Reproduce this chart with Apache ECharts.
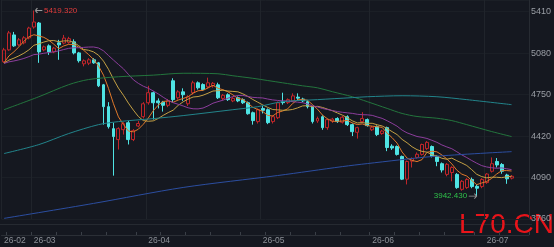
<!DOCTYPE html>
<html>
<head>
<meta charset="utf-8">
<script src="https://cdn.jsdelivr.net/npm/echarts@6/dist/echarts.min.js"></script>
<style>
html, body { margin: 0; padding: 0; background: #151820; }
#main { width: 554px; height: 247px; }
</style>
</head>
<body>
<div id="main"></div>
<script>
// trading days per month (day of month)
var tradeDays = [
    ['2026-02', [20, 23, 24, 25, 26, 27]],
    ['2026-03', [2, 3, 4, 5, 6, 9, 10, 11, 12, 13, 16, 17, 18, 19, 20, 23, 24, 25, 26, 27, 28, 30, 31]],
    ['2026-04', [1, 2, 3, 6, 7, 8, 9, 10, 13, 14, 15, 16, 17, 20, 21, 22, 23, 24, 25, 27, 28, 29, 30]],
    ['2026-05', [1, 4, 5, 6, 7, 8, 11, 12, 13, 14, 15, 18, 19, 20, 21, 22, 25, 26, 27, 28, 29, 30]],
    ['2026-06', [1, 2, 3, 4, 5, 8, 9, 10, 11, 12, 15, 16, 17, 18, 19, 22, 23, 24, 25, 26, 27, 29, 30]],
    ['2026-07', [1, 2, 3, 6, 7, 8]]
];

var opens = [5011, 5106, 5225, 5146, 5162, 5201, 5288, 5320, 5106, 5138, 5090, 5162, 5160, 5165, 5170, 5082, 4995, 5000, 5027, 5003,
    4828, 4654, 4479, 4392, 4471, 4526, 4392, 4500, 4574, 4685, 4765, 4700, 4690, 4665, 4860, 4725, 4772, 4677, 4765, 4844,
    4830, 4812, 4820, 4828, 4720, 4749, 4700, 4725, 4710, 4685, 4606, 4535, 4640, 4630, 4535, 4566, 4694, 4686, 4700, 4730,
    4715, 4694, 4654, 4540, 4574, 4487, 4540, 4560, 4530, 4574, 4511, 4450, 4535, 4551, 4470, 4495, 4440, 4487, 4340, 4337,
    4258, 4077, 4220, 4250, 4274, 4320, 4337, 4258, 4200, 4115, 4130, 4115, 3996, 4010, 4075, 4020, 4018, 4050, 4140, 4218,
    4194, 4110, 4085];
var closes = [5106, 5241, 5138, 5186, 5202, 5280, 5328, 5090, 5130, 5090, 5120, 5146, 5200, 5195, 5082, 5020, 5019, 5027, 5003, 4820,
    4654, 4495, 4416, 4479, 4518, 4392, 4463, 4520, 4677, 4765, 4685, 4685, 4665, 4700, 4710, 4772, 4749, 4733, 4844, 4804,
    4790, 4844, 4840, 4725, 4745, 4710, 4720, 4700, 4685, 4598, 4543, 4630, 4625, 4527, 4574, 4685, 4686, 4710, 4740, 4722,
    4700, 4654, 4535, 4560, 4487, 4551, 4555, 4535, 4570, 4511, 4455, 4487, 4560, 4503, 4490, 4432, 4460, 4329, 4325, 4274,
    4077, 4218, 4240, 4275, 4353, 4370, 4258, 4218, 4150, 4195, 4170, 4010, 4060, 4075, 4018, 4005, 4075, 4118, 4200, 4190,
    4140, 4080, 4100];
var lows = [5003, 5098, 5130, 5138, 5150, 5190, 5275, 5003, 5095, 5066, 5080, 5027, 5150, 5155, 5070, 5005, 4975, 4985, 4995, 4810,
    4511, 4480, 4105, 4313, 4432, 4353, 4380, 4490, 4560, 4670, 4551, 4640, 4615, 4650, 4690, 4710, 4700, 4660, 4750, 4790,
    4780, 4800, 4805, 4715, 4705, 4700, 4690, 4690, 4675, 4590, 4511, 4520, 4600, 4515, 4520, 4555, 4670, 4675, 4690, 4700,
    4690, 4640, 4520, 4525, 4470, 4470, 4525, 4525, 4520, 4500, 4420, 4400, 4525, 4495, 4460, 4420, 4430, 4300, 4310, 4265,
    4070, 4035, 4170, 4240, 4265, 4310, 4250, 4180, 4130, 4100, 4060, 4000, 3985, 4000, 4005, 3942.43, 4005, 4040, 4130, 4170,
    4120, 4040, 4075];
var highs = [5122, 5257, 5249, 5200, 5215, 5290, 5419.32, 5328, 5140, 5150, 5130, 5186, 5225, 5210, 5190, 5090, 5030, 5040, 5040, 5010,
    4835, 4690, 4527, 4490, 4530, 4540, 4475, 4540, 4690, 4820, 4775, 4720, 4700, 4715, 4880, 4785, 4800, 4745, 4860, 4855,
    4840, 4885, 4850, 4845, 4755, 4760, 4730, 4735, 4720, 4695, 4615, 4640, 4660, 4640, 4585, 4695, 4765, 4720, 4760, 4760,
    4725, 4705, 4660, 4575, 4585, 4560, 4565, 4570, 4580, 4585, 4520, 4495, 4610, 4560, 4500, 4505, 4470, 4495, 4355, 4345,
    4265, 4225, 4250, 4290, 4360, 4380, 4345, 4265, 4210, 4205, 4180, 4125, 4070, 4085, 4090, 4035, 4085, 4125, 4250, 4245,
    4205, 4120, 4110];
// closes before the first visible day (for the short averages)
var priorCloses = [4985, 4992, 5010, 4978, 4995, 5002, 5020, 4988, 4970, 5012, 4996, 4984, 5005, 4990, 5015, 4962, 4975, 4990, 4980];

// long averages: [day index, value]
var ma60Pts = [[0, 4630], [7, 4733], [13, 4829], [17, 4870], [23, 4892], [30, 4905], [36, 4920], [43, 4916], [46, 4900], [50, 4880],
    [53, 4862], [56, 4844], [60, 4820], [63, 4804], [66, 4773], [70, 4733], [73, 4694], [77, 4640], [80, 4600], [83, 4576],
    [87, 4562], [90, 4543], [93, 4511], [98, 4456], [102, 4416]];
var ma120Pts = [[0, 4281], [7, 4352], [13, 4440], [19, 4511], [23, 4535], [30, 4559], [36, 4583], [46, 4630], [51, 4654], [56, 4694],
    [63, 4710], [70, 4726], [73, 4733], [80, 4741], [87, 4733], [93, 4710], [102, 4670]];
var ma250Pts = [[0, 3765], [18, 3884], [36, 4011], [55, 4106], [68, 4177], [73, 4201], [86, 4257], [102, 4296]];

// y axis: ticks from 3760 every 330; top of the plot sits a bit above 5410
var yTicks = { min: 3760, max: 5503, step: 330 };

var categories = [];
var monthStarts = [];
tradeDays.forEach(function (m) {
    monthStarts.push(categories.length);
    m[1].forEach(function (d) {
        categories.push(m[0] + '-' + (d < 10 ? '0' : '') + d);
    });
});
var axisData = categories.concat(['', '', '']);

var candleData = opens.map(function (o, i) {
    return [o, closes[i], lows[i], highs[i]];
});

function calcMA(n) {
    var all = priorCloses.concat(closes);
    var off = priorCloses.length;
    return closes.map(function (c, i) {
        var s = 0;
        for (var k = 0; k < n; k++) s += all[off + i - k];
        return +(s / n).toFixed(2);
    });
}

var hiIdx = 0, loIdx = 0;
highs.forEach(function (h, i) { if (h > highs[hiIdx]) hiIdx = i; });
lows.forEach(function (l, i) { if (l < lows[loIdx]) loIdx = i; });

function isMonthStart(i) { return monthStarts.indexOf(i) >= 0; }
function isMonday(i) {
    if (!categories[i]) return false;
    return new Date(categories[i]).getUTCDay() === 1;
}

var myChart = echarts.init(document.getElementById('main'));

var option = {
    backgroundColor: '#151820',
    animation: false,
    textStyle: { fontFamily: '"Liberation Sans", Arial, sans-serif' },
    grid: { left: 1.5, right: 22, top: 0, bottom: 28 },
    xAxis: {
        type: 'category',
        data: axisData,
        boundaryGap: true,
        offset: 16,
        axisLine: { show: true, onZero: false, lineStyle: { color: '#2b2f36' } },
        axisTick: { show: true, inside: true, length: 3, interval: isMonday, lineStyle: { color: '#3a3f47' } },
        axisLabel: {
            interval: isMonthStart,
            formatter: function (v) { return v.slice(2, 7); },
            align: 'left',
            margin: 1,
            color: '#8d9198',
            fontSize: 8.5
        },
        splitLine: { show: true, interval: isMonthStart, lineStyle: { color: '#20242b' } }
    },
    yAxis: {
        type: 'value',
        position: 'right',
        min: yTicks.min,
        max: yTicks.max,
        interval: yTicks.step,
        axisLine: { show: true, lineStyle: { color: '#272b32' } },
        axisTick: { show: false },
        axisLabel: {
            color: '#9a9ea5', fontSize: 9, margin: 2, showMaxLabel: false,
            formatter: function (v) { return String(v); }
        },
        splitLine: { show: true, lineStyle: { color: '#1b1f26' } }
    },
    graphic: [
        { type: 'line', shape: { x1: 0, y1: 224.5, x2: 532, y2: 224.5 }, style: { stroke: '#262a31', lineWidth: 1 }, silent: true },
        { type: 'text', left: 459, top: 211, style: { text: 'L70.CN', fill: '#e8141a', font: '28px "Liberation Sans", Arial, sans-serif' } }
    ],
    series: [
        {
            name: 'K',
            type: 'candlestick',
            data: candleData,
            barWidth: 3.4,
            itemStyle: {
                color: 'rgba(0,0,0,0)',
                color0: '#4fe4e4',
                borderColor: '#c0262a',
                borderColor0: '#4fe4e4',
                borderWidth: 1
            },
            markPoint: {
                data: [
                    {
                        coord: [hiIdx, highs[hiIdx]],
                        value: highs[hiIdx],
                        symbol: 'path://M0,3L3,0M0,3L3,6M0,3L10,3',
                        symbolSize: [7, 5],
                        symbolOffset: [5, 0],
                        itemStyle: { color: 'rgba(0,0,0,0)', borderColor: '#9a9a9a', borderWidth: 1 },
                        label: { show: true, position: 'right', distance: 1, color: '#e23b3b', fontSize: 8,
                            formatter: function (p) { return p.value.toFixed(3); } }
                    },
                    {
                        coord: [loIdx, lows[loIdx]],
                        value: lows[loIdx],
                        symbol: 'path://M10,3L7,0M10,3L7,6M0,3L10,3',
                        symbolSize: [8, 5],
                        symbolOffset: [-4, 0],
                        itemStyle: { color: 'rgba(0,0,0,0)', borderColor: '#9a9a9a', borderWidth: 1 },
                        label: { show: true, position: 'left', distance: 1, color: '#2fc04a', fontSize: 8,
                            formatter: function (p) { return p.value.toFixed(3); } }
                    }
                ]
            }
        },
        { name: 'MA5', type: 'line', data: calcMA(5), symbol: 'none', lineStyle: { width: 1, color: '#e0782a' } },
        { name: 'MA10', type: 'line', data: calcMA(10), symbol: 'none', lineStyle: { width: 1, color: '#c4a044' } },
        { name: 'MA20', type: 'line', data: calcMA(20), symbol: 'none', lineStyle: { width: 1, color: '#8c3d9c' } },
        { name: 'MA60', type: 'line', data: ma60Pts, symbol: 'none', smooth: 0.3, lineStyle: { width: 1, color: '#23753d' } },
        { name: 'MA120', type: 'line', data: ma120Pts, symbol: 'none', smooth: 0.3, lineStyle: { width: 1, color: '#22848b' } },
        { name: 'MA250', type: 'line', data: ma250Pts, symbol: 'none', smooth: 0.3, lineStyle: { width: 1, color: '#2c4ea0' } }
    ]
};

myChart.setOption(option);
</script>
</body>
</html>
